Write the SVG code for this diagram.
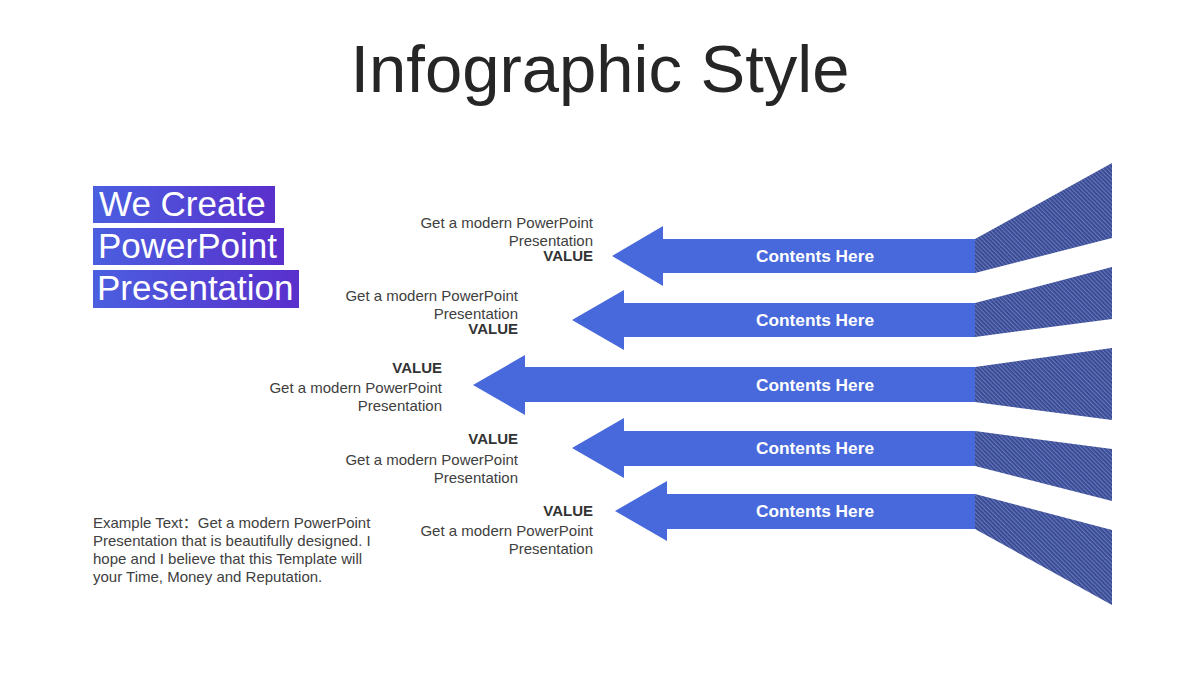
<svg xmlns="http://www.w3.org/2000/svg" width="1200" height="675" viewBox="0 0 1200 675">
<style>
.title{font-family:"Liberation Sans",Arial,sans-serif;font-size:67px;fill:#262626}
.box{fill:url(#boxg)}
.boxt{font-family:"Liberation Sans",Arial,sans-serif;font-size:35px;fill:#ffffff}
.arrow{fill:#4769dc}
.trap{fill:url(#stripes)}
.lbl{font-family:"Liberation Sans",Arial,sans-serif;font-size:17.3px;font-weight:bold;fill:#ffffff;text-anchor:middle}
.desc{font-family:"Liberation Sans",Arial,sans-serif;font-size:15px;fill:#404040;text-anchor:end}
.val{font-family:"Liberation Sans",Arial,sans-serif;font-size:15px;font-weight:bold;fill:#333333;text-anchor:end}
.ex{font-family:"Liberation Sans","Noto Sans CJK SC",Arial,sans-serif;font-size:15px;fill:#404040}
</style>
<defs>
<linearGradient id="boxg" x1="0" y1="0" x2="1" y2="0">
<stop offset="0" stop-color="#4a5fe0"/>
<stop offset="1" stop-color="#5a2fcc"/>
</linearGradient>
<pattern id="stripes" width="3" height="3" patternUnits="userSpaceOnUse" patternTransform="rotate(-45)">
<rect width="3" height="3" fill="#36468a"/>
<rect width="1.3" height="3" fill="#6275c0"/>
</pattern>
</defs>
<rect width="1200" height="675" fill="#ffffff"/>
<text class="title" x="600" y="92" text-anchor="middle">Infographic Style</text>
<g id="heading">
<rect class="box" x="93" y="186" width="182" height="37"/>
<rect class="box" x="93" y="228" width="191" height="37"/>
<rect class="box" x="93" y="270" width="206" height="38"/>
<text class="boxt" x="99" y="216">We Create</text>
<text class="boxt" x="98" y="258">PowerPoint</text>
<text class="boxt" x="97" y="300">Presentation</text>
</g>
<g id="connectors">
<polygon class="trap" points="975,239 1112,163 1112,238 975,273"/>
<polygon class="trap" points="975,303 1112,267 1112,319 975,337"/>
<polygon class="trap" points="975,367 1112,348 1112,420 975,402"/>
<polygon class="trap" points="975,431 1112,449 1112,501 975,466"/>
<polygon class="trap" points="975,494 1112,530 1112,605 975,529"/>
</g>
<g id="arrow1">
<polygon class="arrow" points="612,256 663,226 663,239 975,239 975,273 663,273 663,286"/>
<text class="lbl" x="815" y="262">Contents Here</text>
<text class="desc" x="593" y="228">Get a modern PowerPoint</text>
<text class="desc" x="593" y="246">Presentation</text>
<text class="val" x="593" y="261">VALUE</text>
</g>
<g id="arrow2">
<polygon class="arrow" points="572,320 624,290 624,303 975,303 975,337 624,337 624,350"/>
<text class="lbl" x="815" y="326">Contents Here</text>
<text class="desc" x="518" y="301">Get a modern PowerPoint</text>
<text class="desc" x="518" y="319">Presentation</text>
<text class="val" x="518" y="334">VALUE</text>
</g>
<g id="arrow3">
<polygon class="arrow" points="473,385 525,355 525,367 975,367 975,402 525,402 525,415"/>
<text class="lbl" x="815" y="391">Contents Here</text>
<text class="val" x="442" y="373">VALUE</text>
<text class="desc" x="442" y="393">Get a modern PowerPoint</text>
<text class="desc" x="442" y="411">Presentation</text>
</g>
<g id="arrow4">
<polygon class="arrow" points="572,448 624,418 624,431 975,431 975,466 624,466 624,478"/>
<text class="lbl" x="815" y="454">Contents Here</text>
<text class="val" x="518" y="444">VALUE</text>
<text class="desc" x="518" y="465">Get a modern PowerPoint</text>
<text class="desc" x="518" y="483">Presentation</text>
</g>
<g id="arrow5">
<polygon class="arrow" points="615,511 667,481 667,494 975,494 975,529 667,529 667,541"/>
<text class="lbl" x="815" y="517">Contents Here</text>
<text class="val" x="593" y="516">VALUE</text>
<text class="desc" x="593" y="536">Get a modern PowerPoint</text>
<text class="desc" x="593" y="554">Presentation</text>
</g>
<g id="example">
<text class="ex" x="93" y="528">Example Text：Get a modern PowerPoint</text>
<text class="ex" x="93" y="546">Presentation that is beautifully designed. I</text>
<text class="ex" x="93" y="564">hope and I believe that this Template will</text>
<text class="ex" x="93" y="582">your Time, Money and Reputation.</text>
</g>
</svg>
